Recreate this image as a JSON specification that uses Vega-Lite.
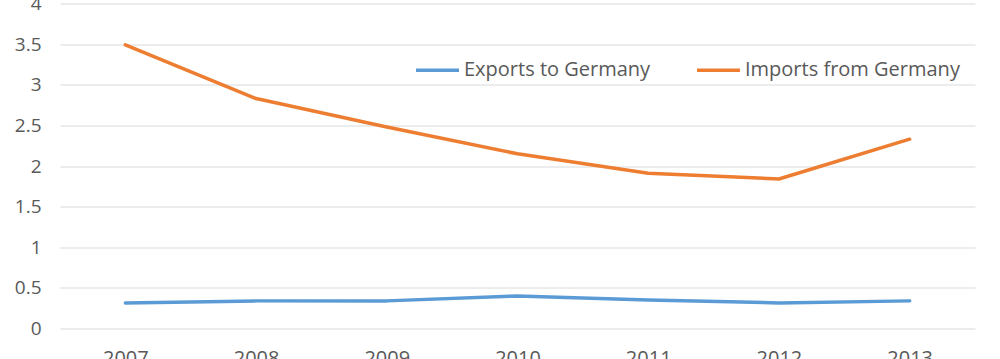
{
  "$schema": "https://vega.github.io/schema/vega-lite/v6.json",
  "width": 915,
  "height": 325,
  "autosize": {"type": "none"},
  "padding": {"left": 60, "top": 3.5, "right": 25, "bottom": 30.5},
  "background": "white",
  "config": {
    "view": {"stroke": null},
    "font": "Open Sans"
  },
  "data": {
    "values": [
      {"year": "2007", "series": "Exports to Germany", "value": 0.315},
      {"year": "2008", "series": "Exports to Germany", "value": 0.34},
      {"year": "2009", "series": "Exports to Germany", "value": 0.34},
      {"year": "2010", "series": "Exports to Germany", "value": 0.40},
      {"year": "2011", "series": "Exports to Germany", "value": 0.35},
      {"year": "2012", "series": "Exports to Germany", "value": 0.315},
      {"year": "2013", "series": "Exports to Germany", "value": 0.34},
      {"year": "2007", "series": "Imports from Germany", "value": 3.49},
      {"year": "2008", "series": "Imports from Germany", "value": 2.83},
      {"year": "2009", "series": "Imports from Germany", "value": 2.48},
      {"year": "2010", "series": "Imports from Germany", "value": 2.15},
      {"year": "2011", "series": "Imports from Germany", "value": 1.91},
      {"year": "2012", "series": "Imports from Germany", "value": 1.84},
      {"year": "2013", "series": "Imports from Germany", "value": 2.33}
    ]
  },
  "mark": {"type": "line", "strokeWidth": 3.5, "strokeCap": "round", "strokeJoin": "round"},
  "encoding": {
    "x": {
      "field": "year", "type": "ordinal",
      "scale": {"type": "point", "padding": 0.5},
      "axis": {
        "title": null, "domain": false, "ticks": false, "labelAngle": 0,
        "labelFontSize": 20, "labelColor": "#595959", "labelPadding": 20, "labelBaseline": "top"
      }
    },
    "y": {
      "field": "value", "type": "quantitative",
      "scale": {"domain": [0, 4], "nice": false},
      "axis": {
        "title": null, "domain": false, "ticks": false, "values": [0, 0.5, 1, 1.5, 2, 2.5, 3, 3.5, 4],
        "labelExpr": "'' + datum.value",
        "labelFontSize": 19, "labelColor": "#595959", "labelPadding": 19,
        "gridColor": "#D9D9D9", "gridWidth": 1, "labelFlush": false
      }
    },
    "color": {
      "field": "series", "type": "nominal",
      "scale": {"domain": ["Exports to Germany", "Imports from Germany"], "range": ["#5B9BD5", "#ED7D31"]},
      "legend": {
        "title": null, "orient": "none", "direction": "horizontal",
        "legendX": 354, "legendY": 43,
        "symbolType": "stroke", "symbolSize": 1849, "symbolStrokeWidth": 3.5,
        "labelFontSize": 20, "labelColor": "#595959", "labelOffset": 3, "columnPadding": 39,
        "labelLimit": 400
      }
    }
  }
}
